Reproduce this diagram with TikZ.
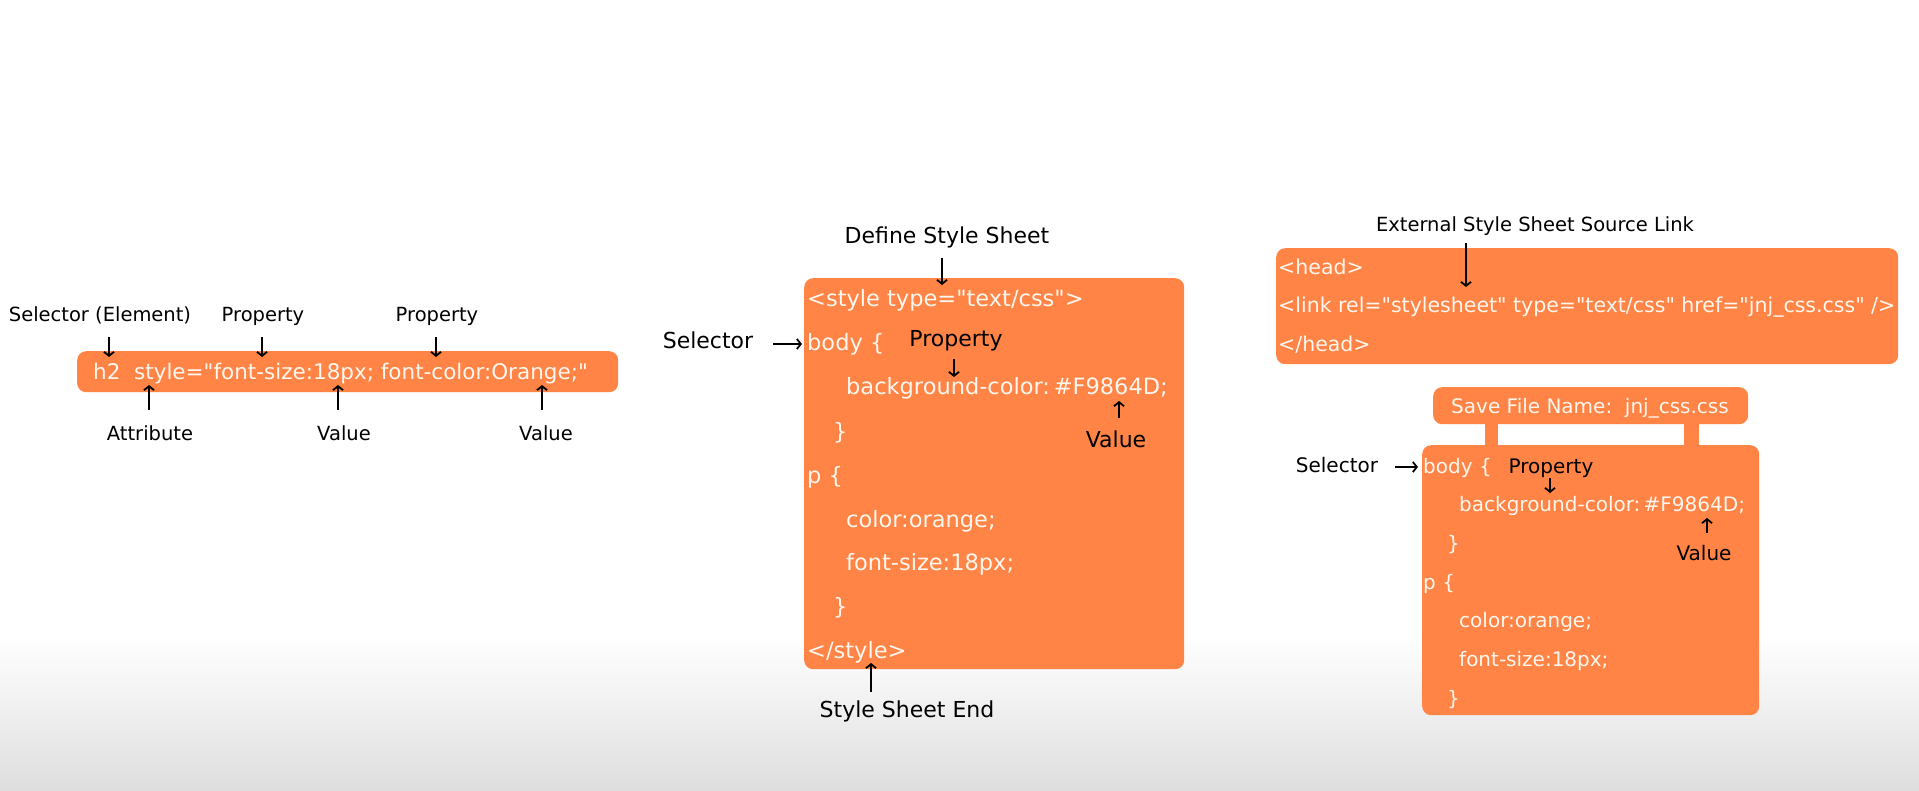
\documentclass[tikz,border=0pt]{standalone}
\usepackage{fontspec}
\setmainfont{DejaVu Sans}[Ligatures=TeXOff]
\usetikzlibrary{arrows.meta}
\definecolor{cssorange}{HTML}{FF8445}
\definecolor{codewhite}{HTML}{FFF6EE}

\begin{document}
\begin{tikzpicture}
[x=1pt,y=-1pt
,cbox/.style={fill=cssorange,draw=none,rounded corners=9pt,anchor=north west,inner sep=0pt}
,code/.style={anchor=base west,inner sep=0pt,text=codewhite,font=\fontsize{#1}{#1}\selectfont}
,code/.default=22.5
,lbl/.style={anchor=base,inner sep=0pt,text height=15pt,text depth=5pt,font=\fontsize{#1}{#1}\selectfont}
,lbl/.default=19.5
,ar/.style={draw=black,line width=1.8pt,arrows={-Straight Barb[length=4pt,width=10pt]}}
]
\useasboundingbox (0,0) rectangle (1919,791);
\fill[white] (0,0) rectangle (1919,637);
\shade[top color=white,bottom color=black!13] (0,636) rectangle (1919,791);

% inline style
\node[cbox,minimum width=541pt,minimum height=41pt] (inlbox) at (77,351) {};
\node[code=21.5] (inl) at (93,379) {h2\ \ style="font-size:18px; font-color:Orange;"};
\node[lbl] (sel1) at (100,322) {Selector (Element)};
\node[lbl] (prop1a) at (263,322) {Property};
\node[lbl] (prop1b) at (437,322) {Property};
\node[lbl] (attr1) at (150,440) {Attribute};
\node[lbl] (val1a) at (344,440) {Value};
\node[lbl] (val1b) at (546,440) {Value};
\coordinate (sel1tip) at (109,357);
\coordinate (prop1atip) at (262,357);
\coordinate (prop1btip) at (436,357);
\coordinate (attr1tip) at (149,385);
\coordinate (val1atip) at (338,385);
\coordinate (val1btip) at (542,385);
\draw[ar,shorten <=10pt] (sel1tip |- sel1.south) -- (sel1tip);
\draw[ar,shorten <=10pt] (prop1atip |- prop1a.south) -- (prop1atip);
\draw[ar,shorten <=10pt] (prop1btip |- prop1b.south) -- (prop1btip);
\draw[ar,shorten <=15pt] (attr1tip |- attr1.north) -- (attr1tip);
\draw[ar,shorten <=15pt] (val1atip |- val1a.north) -- (val1atip);
\draw[ar,shorten <=15pt] (val1btip |- val1b.north) -- (val1btip);

% internal style sheet
\node[cbox,minimum width=380pt,minimum height=391pt] (intbox) at (804,278) {};
\node[code] (style2) at (807,307) {<style type="text/css">};
\node[code] (body2) at (807,351) {body \{};
\node[code] (bg2) at (846,395) {background-color:\,\#F9864D;};
\node[code] (close2a) at (833,439) {\}};
\node[code] (p2) at (807,483) {p \{};
\node[code] (col2) at (846,527) {color:orange;};
\node[code] (fs2) at (846,570) {font-size:18px;};
\node[code] (close2b) at (833,614) {\}};
\node[code] (end2) at (807,658) {</style>};
\node[lbl=22] (def2) at (947,244) {Define Style Sheet};
\node[lbl=22] (sel2) at (708,349) {Selector};
\node[lbl=22] (prop2) at (956,347) {Property};
\node[lbl=22] (val2) at (1116,447) {Value};
\node[lbl=22] (endlbl2) at (907,717) {Style Sheet End};
\coordinate (def2tip) at (942,285);
\coordinate (sel2tip) at (802,344);
\coordinate (prop2tip) at (954,377);
\coordinate (val2tip) at (1119,401);
\coordinate (end2tip) at (871,663);
\draw[ar,shorten <=9pt] (def2tip |- def2.south) -- (def2tip);
\draw[ar,shorten <=20pt] (sel2.east) -- (sel2tip);
\draw[ar,shorten <=7pt] (prop2tip |- prop2.south) -- (prop2tip);
\draw[ar,shorten <=14pt] (val2tip |- val2.north) -- (val2tip);
\draw[ar,shorten <=10pt] (end2tip |- endlbl2.north) -- (end2tip);

% external link
\node[cbox,minimum width=622pt,minimum height=116pt] (extbox) at (1276,248) {};
\node[code=20.5] (head3) at (1278,275) {<head>};
\node[code=20.5] (link3) at (1278,313) {<link rel="stylesheet" type="text/css" href="jnj\_css.css" />};
\node[code=20.5] (endhead3) at (1278,352) {</head>};
\node[lbl] (ext3) at (1535,232) {External Style Sheet Source Link};
\coordinate (ext3tip) at (1466,287);
\draw[ar,shorten <=6pt] (ext3tip |- ext3.south) -- (ext3tip);

% css file
\node[cbox,minimum width=315pt,minimum height=37pt] (savebox) at (1433,387) {};
\node[anchor=base,inner sep=0pt,text=codewhite,font=\fontsize{20}{20}\selectfont] (save) at (1590,413) {Save File Name:\ \ jnj\_css.css};
\fill[cssorange] (1485,420) rectangle (1498,449);
\fill[cssorange] (1684,420) rectangle (1699,449);
\node[cbox,minimum width=337pt,minimum height=270pt] (filebox) at (1422,445) {};
\node[code=20] (body5) at (1423,473) {body \{};
\node[code=20] (bg5) at (1459,511) {background-color:\,\#F9864D;};
\node[code=20] (close5a) at (1447,550) {\}};
\node[code=20] (p5) at (1423,589) {p \{};
\node[code=20] (col5) at (1459,627) {color:orange;};
\node[code=20] (fs5) at (1459,666) {font-size:18px;};
\node[code=20] (close5b) at (1447,705) {\}};
\node[lbl=20] (sel5) at (1337,472) {Selector};
\node[lbl=20] (prop5) at (1551,473) {Property};
\node[lbl=20] (val5) at (1704,560) {Value};
\coordinate (sel5tip) at (1418,467);
\coordinate (prop5tip) at (1550,493);
\coordinate (val5tip) at (1707,518);
\draw[ar,shorten <=17pt] (sel5.east) -- (sel5tip);
\draw[ar] (prop5tip |- prop5.south) -- (prop5tip);
\draw[ar,shorten <=12pt] (val5tip |- val5.north) -- (val5tip);
\end{tikzpicture}
\end{document}
